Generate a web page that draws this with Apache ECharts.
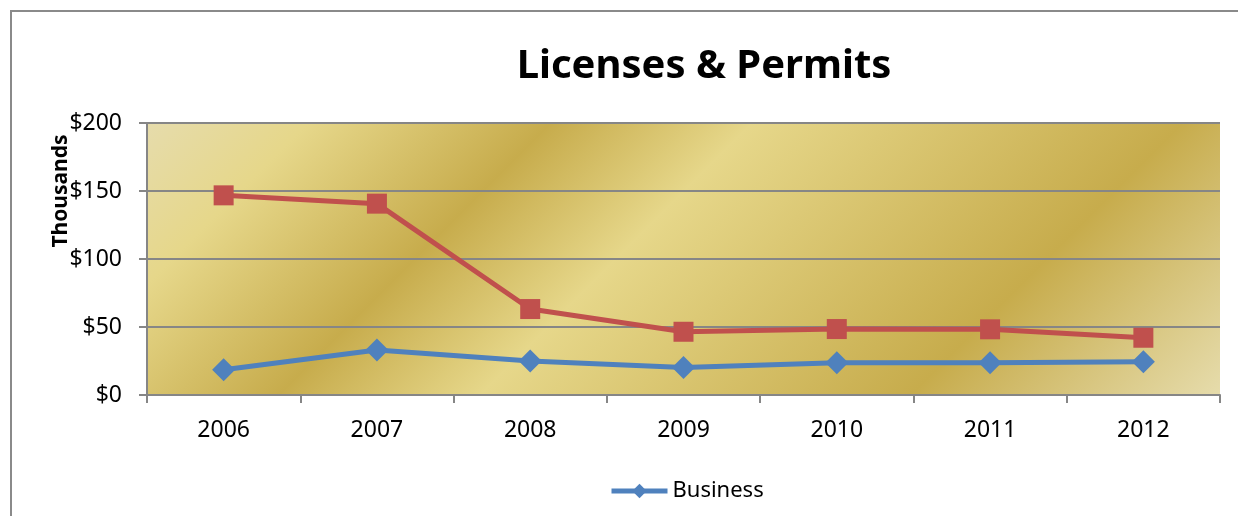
<!DOCTYPE html>
<html>
<head>
<meta charset="utf-8">
<script src="https://cdn.jsdelivr.net/npm/echarts@6/dist/echarts.min.js"></script>
<style>
html,body{margin:0;padding:0;background:#fff;}
#chart{width:1238px;height:516px;}
</style>
</head>
<body>
<div id="chart"></div>
<script>
const categories = ['2006', '2007', '2008', '2009', '2010', '2011', '2012'];
const business = [18.6, 33.1, 25.0, 20.3, 23.8, 23.8, 24.5];
const nonBusiness = [146.8, 140.7, 63.2, 46.5, 48.5, 48.3, 42.1];
const yTicks = [0, 50, 100, 150, 200];

const FONT = 'Noto Sans';
const chart = echarts.init(document.getElementById('chart'));

const gx = 147, gy = 123, gr = 1220, gb = 395;
const span = ((gr + gb) - (gx + gy)) / 2;
const goldGrad = new echarts.graphic.LinearGradient(gx, gy, gx + span, gy + span, [
  {offset: 0, color: '#E6DCAC'},
  {offset: 0.12, color: '#E6D78A'},
  {offset: 0.30, color: '#C7AC4C'},
  {offset: 0.45, color: '#E6D78A'},
  {offset: 0.77, color: '#C7AC4C'},
  {offset: 1, color: '#E6DCAC'}
], true);

chart.setOption({
  animation: false,
  backgroundColor: '#fff',
  title: {
    text: 'Licenses & Permits',
    left: 699,
    textAlign: 'center',
    top: 42,
    textStyle: {fontFamily: FONT, fontWeight: 'bold', fontSize: 40, color: '#000'}
  },
  graphic: [
    {
      type: 'rect',
      shape: {x: 11, y: 11, width: 1400, height: 700},
      style: {fill: null, stroke: '#8a8a8a', lineWidth: 2},
      z: -1
    },
    {
      type: 'text',
      x: 61, y: 191,
      rotation: Math.PI / 2,
      style: {
        text: 'Thousands',
        fontFamily: FONT, fontWeight: 'bold', fontSize: 21, fill: '#000',
        align: 'center', verticalAlign: 'middle'
      }
    }
  ],
  legend: {
    data: ['Business'],
    left: 609,
    top: 480,
    padding: 0,
    itemWidth: 56,
    itemHeight: 18,
    itemGap: 5,
    lineStyle: {width: 5},
    textStyle: {fontFamily: FONT, fontSize: 22, color: '#000'}
  },
  grid: {
    left: gx, top: gy, right: 1238 - gr, bottom: 516 - gb,
    show: true,
    backgroundColor: goldGrad,
    borderWidth: 0
  },
  xAxis: {
    type: 'category',
    data: categories,
    boundaryGap: true,
    axisLine: {lineStyle: {color: '#868686', width: 2}},
    axisTick: {show: true, length: 8, lineStyle: {color: '#868686', width: 2}},
    axisLabel: {fontFamily: FONT, fontSize: 23, color: '#000', margin: 24}
  },
  yAxis: {
    type: 'value',
    min: yTicks[0],
    max: yTicks[yTicks.length - 1],
    interval: 50,
    axisLine: {show: true, lineStyle: {color: '#868686', width: 2}},
    axisTick: {show: true, length: 8, lineStyle: {color: '#868686', width: 2}},
    splitLine: {show: true, lineStyle: {color: '#868686', width: 2}},
    axisLabel: {fontFamily: FONT, fontSize: 23, color: '#000', margin: 25, formatter: '${value}'}
  },
  series: [
    {
      name: 'Business',
      type: 'line',
      data: business,
      symbol: 'diamond',
      symbolSize: 23,
      lineStyle: {color: '#4F81BD', width: 5},
      itemStyle: {color: '#4F81BD'},
      z: 3
    },
    {
      name: 'Non-Business',
      type: 'line',
      data: nonBusiness,
      symbol: 'rect',
      symbolSize: 20,
      lineStyle: {color: '#C0504D', width: 5},
      itemStyle: {color: '#C0504D'},
      z: 3
    }
  ]
});
</script>
</body>
</html>
